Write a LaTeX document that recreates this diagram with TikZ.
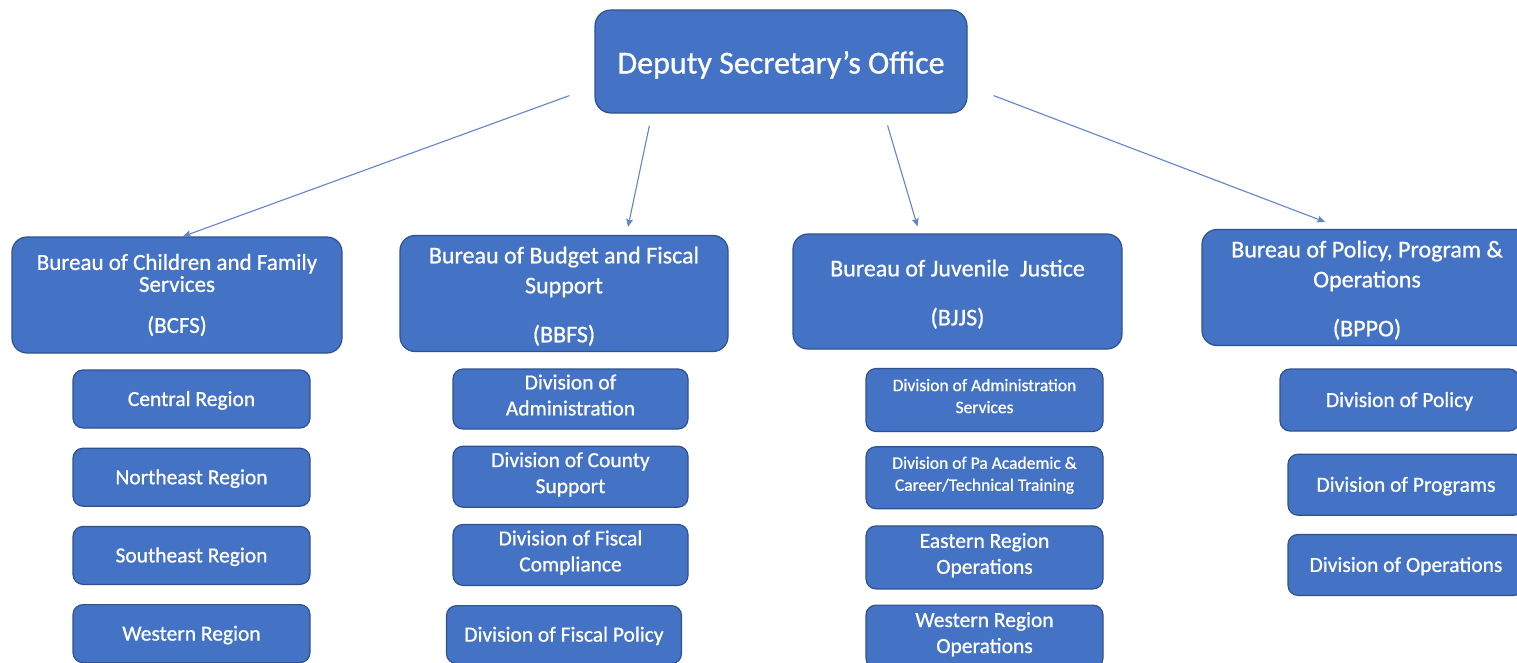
\documentclass[tikz,border=0pt]{standalone}
\usepackage{fontspec}
\setmainfont{Carlito}[FakeBold=0.8]
\usepackage{tikz}
\usetikzlibrary{shapes.geometric, arrows, arrows.meta, positioning}
\definecolor{boxfill}{RGB}{68,114,196}
\definecolor{boxline}{RGB}{47,82,143}
\definecolor{linkblue}{RGB}{98,132,200}
\newcommand{\topgap}{\rule{0pt}{22pt}}
\tikzstyle{office} = [rectangle, rounded corners=16pt, minimum width=372pt, minimum height=103pt, text centered, text height=26pt, text depth=2pt, draw=boxline, line width=1.2pt, fill=boxfill, text=white, font=\fontsize{32}{38}\selectfont]
\tikzstyle{bureau} = [rectangle, rounded corners=15pt, minimum width=330pt, minimum height=116pt, align=center, draw=boxline, line width=1.2pt, fill=boxfill, text=white, font=\fontsize{24}{30}\selectfont]
\tikzstyle{division} = [rectangle, rounded corners=10pt, minimum width=237pt, minimum height=60pt, align=center, execute at end node={\rule[-8pt]{0pt}{0pt}}, draw=boxline, line width=1.2pt, fill=boxfill, text=white, font=\fontsize{21.5}{26}\selectfont]
\tikzstyle{oneline} = [text height=16pt, text depth=2pt]
\tikzstyle{arrow} = [line width=1.1pt, draw=linkblue, ->, >={Stealth[length=8pt,width=7pt,inset=1.5pt]}]

\begin{document}
\begin{tikzpicture}[x=1pt, y=-1pt]

        \clip (0,0) rectangle (1517,662);

        \node (dso) [office] at (781,61.5) {Deputy Secretary’s Office};

        \node (bcfs) [bureau, font=\fontsize{23}{22}\selectfont] at (177,295) {Bureau of Children and Family\\Services\\[19pt](BCFS)};
        \node (bbfs) [bureau, minimum width=328pt] at (564,293.5) {\topgap Bureau of Budget and Fiscal\\Support\\[19pt](BBFS)};
        \node (bjjs) [bureau, minimum width=329pt, minimum height=115pt] at (957.5,291.5) {\topgap Bureau of Juvenile\ \ Justice\\[19pt](BJJS)};
        \node (bppo) [bureau] at (1367,287.5) {\topgap Bureau of Policy, Program \&\\Operations\\[19pt](BPPO)};

        % BCFS regions
        \node (central) [division, oneline, minimum height=58pt] at (191.5,399) {Central Region};
        \node (northeast) [division, oneline, minimum height=58pt, below=19pt of central] {Northeast Region};
        \node (southeast) [division, oneline, minimum height=58pt, below=19pt of northeast] {Southeast Region};
        \node (western) [division, oneline, minimum height=58pt, below=19pt of southeast] {Western Region};

        % BBFS divisions
        \node (admin) [division, minimum width=235pt] at (570.5,399) {Division of\\Administration};
        \node (county) [division, minimum width=235pt, minimum height=61pt, below=16pt of admin] {Division of County\\Support};
        \node (compliance) [division, minimum width=235pt, minimum height=61pt, below=16pt of county] {Division of Fiscal\\Compliance};
        \node (fiscalpolicy) [division, oneline, minimum width=235pt, minimum height=58pt, below=19pt of compliance, xshift=-6.5pt] {Division of Fiscal Policy};

        % BJJS divisions
        \node (adminserv) [division, minimum height=63pt, font=\fontsize{17.5}{22}\selectfont] at (984.5,400) {Division of Administration\\Services};
        \node (academic) [division, minimum height=62pt, font=\fontsize{17.5}{22}\selectfont, below=14pt of adminserv] {Division of Pa Academic \&\\Career/Technical Training};
        \node (eastern) [division, minimum height=63pt, below=16pt of academic] {Eastern Region\\Operations};
        \node (westernops) [division, minimum height=63pt, below=15pt of eastern] {Western Region\\Operations};

        % BPPO divisions
        \node (policy) [division, oneline, minimum width=239pt, minimum height=62pt] at (1399.5,400) {Division of Policy};
        \node (programs) [division, oneline, minimum width=236pt, minimum height=61pt, below=22pt of policy, xshift=6.5pt] {Division of Programs};
        \node (operations) [division, oneline, minimum width=236pt, minimum height=61pt, below=18pt of programs] {Division of Operations};

        \coordinate (fromL) at ([shift={(-25,-18)}]dso.south west);
        \coordinate (fromML) at ([shift={(55,12)}]dso.south west);
        \coordinate (fromMR) at ([shift={(-80,12)}]dso.south east);
        \coordinate (fromR) at ([shift={(26,-18)}]dso.south east);

        \draw [arrow] (fromL) -- ([xshift=6pt]bcfs.north);
        \draw [arrow] (fromML) -- ([xshift=64pt,yshift=8pt]bbfs.north);
        \draw [arrow] (fromMR) -- ([xshift=-40pt,yshift=7pt]bjjs.north);
        \draw [arrow] (fromR) -- ([xshift=-42pt,yshift=7pt]bppo.north);

      \end{tikzpicture}
\end{document}
